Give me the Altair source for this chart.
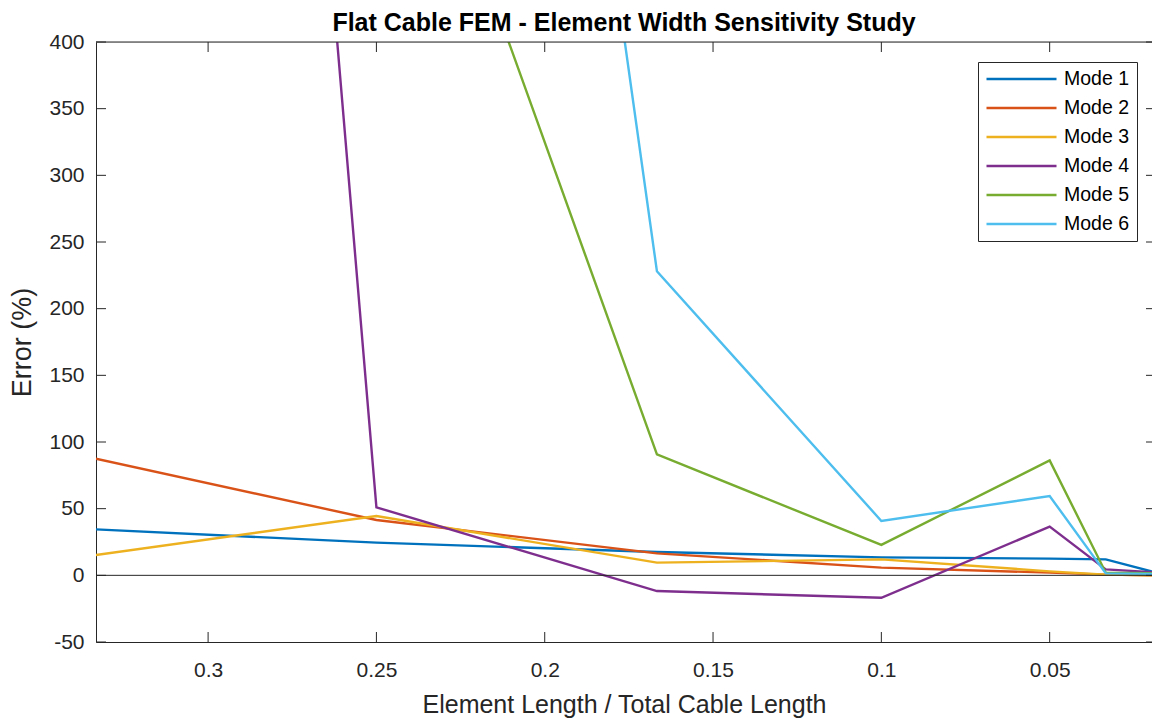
import altair as alt
import pandas as pd

# ---- data ----
x_vals = [1/3, 1/4, 1/6, 1/10, 1/20, 1/30, 1/60]
mode_names = ["Mode 1", "Mode 2", "Mode 3", "Mode 4", "Mode 5", "Mode 6"]
mode1 = [34.5, 24.5, 17.5, 13.5, 12.5, 12.0, 1.0]
mode2 = [87.5, 41.5, 16.5, 5.8, 2.0, 0.5, 0.0]
mode3 = [15.2, 44.5, 9.5, 12.0, 3.0, 0.5, 0.0]
mode4 = [2550.0, 51.0, -11.8, -16.8, 36.5, 4.5, 2.0]
mode5 = [1800.0, 676.0, 90.7, 22.8, 86.2, 2.0, 1.5]
mode6 = [3000.0, 1730.0, 228.0, 40.8, 59.5, 1.5, 1.0]
colors = ["#0072BD", "#D95319", "#EDB120", "#7E2F8E", "#77AC30", "#4DBEEE"]
x_ticks = [0.3, 0.25, 0.2, 0.15, 0.1, 0.05]
y_ticks = [-50, 0, 50, 100, 150, 200, 250, 300, 350, 400]

rows = []
for name, vals in zip(mode_names, [mode1, mode2, mode3, mode4, mode5, mode6]):
    for xv, yv in zip(x_vals, vals):
        rows.append({"x": xv, "y": yv, "mode": name})
df = pd.DataFrame(rows)
xt_df = pd.DataFrame({"x": x_ticks})
yt_df = pd.DataFrame({"y": y_ticks})

W, H = 1056, 600
AX = "#262626"
FONT = "Liberation Sans"

xscale = alt.Scale(domain=[0.0196, 0.3333], reverse=True, zero=False, nice=False)
yscale = alt.Scale(domain=[-50, 400], zero=False, nice=False)

x_axis = alt.Axis(
    values=x_ticks, format=".2~f", ticks=False, tickSize=0, grid=False,
    domain=True, domainColor=AX, domainWidth=1,
    labelFont=FONT, labelFontSize=21, labelColor=AX, labelPadding=17,
    title="Element Length / Total Cable Length", titleFont=FONT,
    titleFontSize=25, titleFontWeight="normal", titleColor=AX,
    titleY=70, titleBaseline="alphabetic")
y_axis = alt.Axis(
    values=y_ticks, labelExpr="toString(datum.value)", ticks=False,
    tickSize=0, grid=False,
    domain=True, domainColor=AX, domainWidth=1,
    labelFont=FONT, labelFontSize=21, labelColor=AX, labelPadding=12,
    title="Error (%)", titleFont=FONT, titleFontSize=27,
    titleFontWeight="normal", titleColor=AX, titleX=-74, titleY=300,
    titleAlign="center", titleBaseline="middle")

X = lambda: alt.X("x:Q", scale=xscale, axis=x_axis, title="Element Length / Total Cable Length")
Y = lambda: alt.Y("y:Q", scale=yscale, axis=y_axis, title="Error (%)")

lines = alt.Chart(df).mark_line(clip=True, strokeWidth=2.4).encode(
    x=X(), y=Y(),
    color=alt.Color("mode:N", title=None,
                    scale=alt.Scale(domain=mode_names, range=colors),
                    legend=alt.Legend(
                        orient="none", legendX=882, legendY=20,
                        strokeColor=AX, fillColor="white", padding=7,
                        symbolType="stroke", symbolSize=4900,
                        symbolStrokeWidth=2.4, clipHeight=20, rowPadding=9,
                        labelFont=FONT, labelFontSize=19.5, labelColor="black",
                        labelOffset=6)),
)

zero_line = alt.Chart(pd.DataFrame({"y": [0]})).mark_rule(
    color=AX, strokeWidth=1).encode(y=Y())
top_line = alt.Chart(pd.DataFrame({"y": [400]})).mark_rule(
    color=AX, strokeWidth=1).encode(y=Y())

bottom_ticks = alt.Chart(xt_df).mark_rule(color=AX, strokeWidth=1).encode(
    x=X(), y=alt.value(H - 10), y2=alt.value(H))
top_ticks = alt.Chart(xt_df).mark_rule(color=AX, strokeWidth=1).encode(
    x=X(), y=alt.value(0), y2=alt.value(10))
left_ticks = alt.Chart(yt_df).mark_rule(color=AX, strokeWidth=1).encode(
    y=Y(), x=alt.value(0), x2=alt.value(10))
right_ticks = alt.Chart(yt_df).mark_rule(color=AX, strokeWidth=1).encode(
    y=Y(), x=alt.value(W - 6), x2=alt.value(W))

chart = alt.layer(
    lines, zero_line, top_line, bottom_ticks, top_ticks, left_ticks, right_ticks
).properties(
    width=W, height=H,
    autosize=alt.AutoSizeParams(type="none"),
    padding={"left": 96, "top": 42, "right": 0, "bottom": 77},
    title=alt.Title("Flat Cable FEM - Element Width Sensitivity Study",
                    font=FONT, fontSize=25, fontWeight="bold", color="black",
                    anchor="middle", frame="group", offset=-5),
).configure_view(strokeWidth=0).configure(background="white")

chart.save("out.html", embed_options={"renderer": "svg", "actions": False})
